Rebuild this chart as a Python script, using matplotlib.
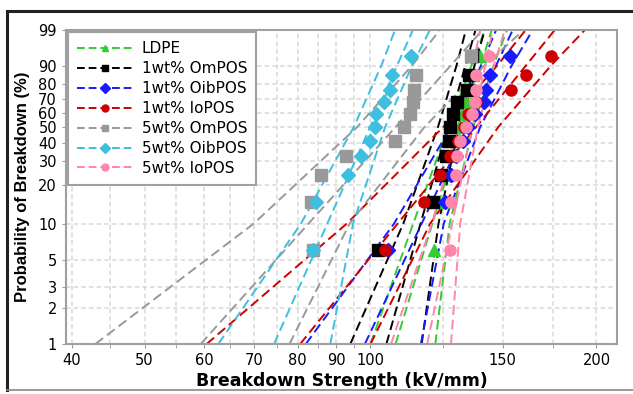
import matplotlib.pyplot as plt
from matplotlib.lines import Line2D
import numpy as np

plt.rcParams['font.family'] = ['DejaVu Sans']

# Probabilidades de ranking (%) dos 11 pontos de cada amostra
prob = [6.1, 14.9, 23.7, 32.5, 41.2, 50.0, 58.8, 67.5, 76.3, 85.1, 93.9]
# Probabilidades (%) em que as retas e limites de confianca foram lidos
prob_lin = [1, 10, 50, 90, 99]

names = ["LDPE", "1wt% OmPOS", "1wt% OibPOS", "1wt% IoPOS",
         "5wt% OmPOS", "5wt% OibPOS", "5wt% IoPOS"]
colors = ["#33cc33", "#000000", "#1a1aff", "#cc0000",
          "#999999", "#3fbfdf", "#ff85aa"]
markers = ["^", "s", "D", "o", "s", "D", "o"]

# Rigidez dieletrica (kV/mm)
ldpe_pts = [121.5, 125.0, 127.0, 128.5, 130.0, 131.0, 132.5, 134.0, 135.5, 137.0, 140.0]
om1_pts = [102.3, 121.1, 124.1, 126.0, 127.2, 127.6, 128.7, 130.3, 134.4, 135.2, 136.5]
oib1_pts = [105.5, 125.6, 128.0, 129.9, 132.7, 134.8, 137.7, 141.6, 142.4, 144.2, 153.3]
io1_pts = [104.6, 117.8, 123.7, 127.6, 130.7, 133.2, 134.8, 138.1, 153.7, 161.0, 173.8]
om5_pts = [83.9, 83.4, 86.0, 92.8, 107.8, 110.8, 112.9, 113.9, 114.3, 114.9, 136.0]
oib5_pts = [83.9, 84.6, 93.4, 97.2, 99.9, 101.4, 101.7, 104.2, 106.2, 106.8, 113.2]
io5_pts = [127.6, 128.0, 129.9, 130.2, 131.5, 134.0, 136.5, 137.7, 138.1, 138.3, 143.7]

# Retas de Weibull e limites de confianca (kV/mm em prob_lin)
ldpe_lo = [100.0, 114.0, 127.0, 136.3, 142.0]
ldpe_fit = [108.0, 120.9, 132.4, 140.3, 145.0]
ldpe_hi = [122.0, 127.5, 137.0, 145.8, 152.0]
om1_lo = [94.0, 110.6, 123.0, 130.2, 134.0]
om1_fit = [105.0, 116.6, 126.8, 133.8, 138.0]
om1_hi = [117.0, 123.2, 131.0, 137.6, 142.0]
oib1_lo = [82.0, 107.5, 128.0, 140.4, 147.0]
oib1_fit = [98.3, 117.0, 134.5, 147.0, 154.7]
oib1_hi = [116.7, 125.2, 140.0, 154.2, 164.5]
io1_lo = [60.5, 93.0, 125.0, 147.5, 161.0]
io1_fit = [80.6, 108.7, 138.3, 161.1, 176.0]
io1_hi = [100.0, 120.1, 148.0, 174.0, 193.0]
om5_lo = [43.0, 69.9, 96.0, 113.6, 123.7]
om5_fit = [59.4, 82.7, 108.0, 127.9, 141.0]
om5_hi = [78.0, 93.8, 118.0, 141.9, 160.0]
oib5_lo = [62.7, 80.8, 95.0, 103.4, 107.8]
oib5_fit = [74.4, 87.6, 99.9, 108.5, 113.9]
oib5_hi = [88.4, 94.8, 104.6, 113.6, 120.0]
io5_lo = [106.5, 120.7, 131.0, 136.9, 140.0]
io5_fit = [119.0, 128.5, 136.7, 142.2, 145.5]
io5_hi = [128.0, 131.7, 139.0, 146.0, 151.0]

pts = [ldpe_pts, om1_pts, oib1_pts, io1_pts, om5_pts, oib5_pts, io5_pts]
lines = [(ldpe_lo, ldpe_fit, ldpe_hi), (om1_lo, om1_fit, om1_hi),
         (oib1_lo, oib1_fit, oib1_hi), (io1_lo, io1_fit, io1_hi),
         (om5_lo, om5_fit, om5_hi), (oib5_lo, oib5_fit, oib5_hi),
         (io5_lo, io5_fit, io5_hi)]

y_ticks = [1, 2, 3, 5, 10, 20, 30, 40, 50, 60, 70, 80, 90, 99]
x_ticks = [40, 50, 60, 70, 80, 90, 100, 150, 200]
x_minor = [45, 55, 65, 75, 85, 95, 125, 175]


# Escala de Weibull: ln(-ln(1-F))
def weib(p):
    p = np.asarray(p, dtype=float) / 100.0
    return np.log(-np.log(1.0 - p))


fig = plt.figure(figsize=(6.33, 3.94), dpi=100)
ax = fig.add_axes([0.1043, 0.1269, 0.8704, 0.797])

for (lo, fit, hi), c in zip(lines, colors):
    for ln in (lo, fit, hi):
        ax.plot(ln, weib(prob_lin), color=c, ls=(0, (5, 2.5)), lw=1.4,
                zorder=2)

for p, c, m in zip(pts, colors, markers):
    ms = 7 if m == "D" else 8
    ax.plot(p, weib(prob), ls='none', marker=m, color=c, ms=ms, zorder=3)

ax.set_xscale('log')
ax.set_xlim(39.3, 213)
ax.set_ylim(weib(1), weib(99))
ax.set_xticks(x_ticks)
ax.set_xticklabels([str(v) for v in x_ticks])
ax.set_xticks(x_minor, minor=True)
ax.set_xticklabels([], minor=True)
ax.set_yticks(weib(y_ticks))
ax.set_yticklabels([str(v) for v in y_ticks])
ax.tick_params(axis='both', which='both', labelsize=10.5, length=3,
               color='#999999', pad=3.5)
ax.grid(True, which='both', color='#d9d9d9', ls=(0, (3, 2)), lw=1.1)
ax.set_axisbelow(True)
for s in ax.spines.values():
    s.set_color('#a0a0a0')
    s.set_linewidth(1.5)

ax.set_xlabel("Breakdown Strength (kV/mm)", fontsize=12.5,
              fontweight='bold', labelpad=3)
ax.set_ylabel("Probability of Breakdown (%)", fontsize=12,
              fontweight='bold', labelpad=6, family='Liberation Sans')

handles = [Line2D([], [], color=c, ls=(0, (4, 2)), lw=1.4, marker=m, ms=5)
           for c, m in zip(colors, markers)]
leg = ax.legend(handles, names, loc='upper left', fontsize=11,
                handlelength=3.6, handletextpad=0.6, borderaxespad=0.15,
                labelspacing=0.32, borderpad=0.6, fancybox=False,
                framealpha=1)
leg.get_frame().set_edgecolor('#a0a0a0')
leg.get_frame().set_linewidth(1.5)

# Moldura da figura: topo e esquerda escuros, base cinza
x0, y0, y1 = 0.0115, 0.0089, 0.9728
fig.add_artist(Line2D([x0, 1.0], [y1, y1], color='#222222', lw=2.2,
                      transform=fig.transFigure))
fig.add_artist(Line2D([x0, x0], [y0, y1], color='#222222', lw=2.2,
                      transform=fig.transFigure))
fig.add_artist(Line2D([x0, 1.0], [y0, y0], color='#888888', lw=1.2,
                      transform=fig.transFigure))

fig.savefig("out.png", dpi=100)
